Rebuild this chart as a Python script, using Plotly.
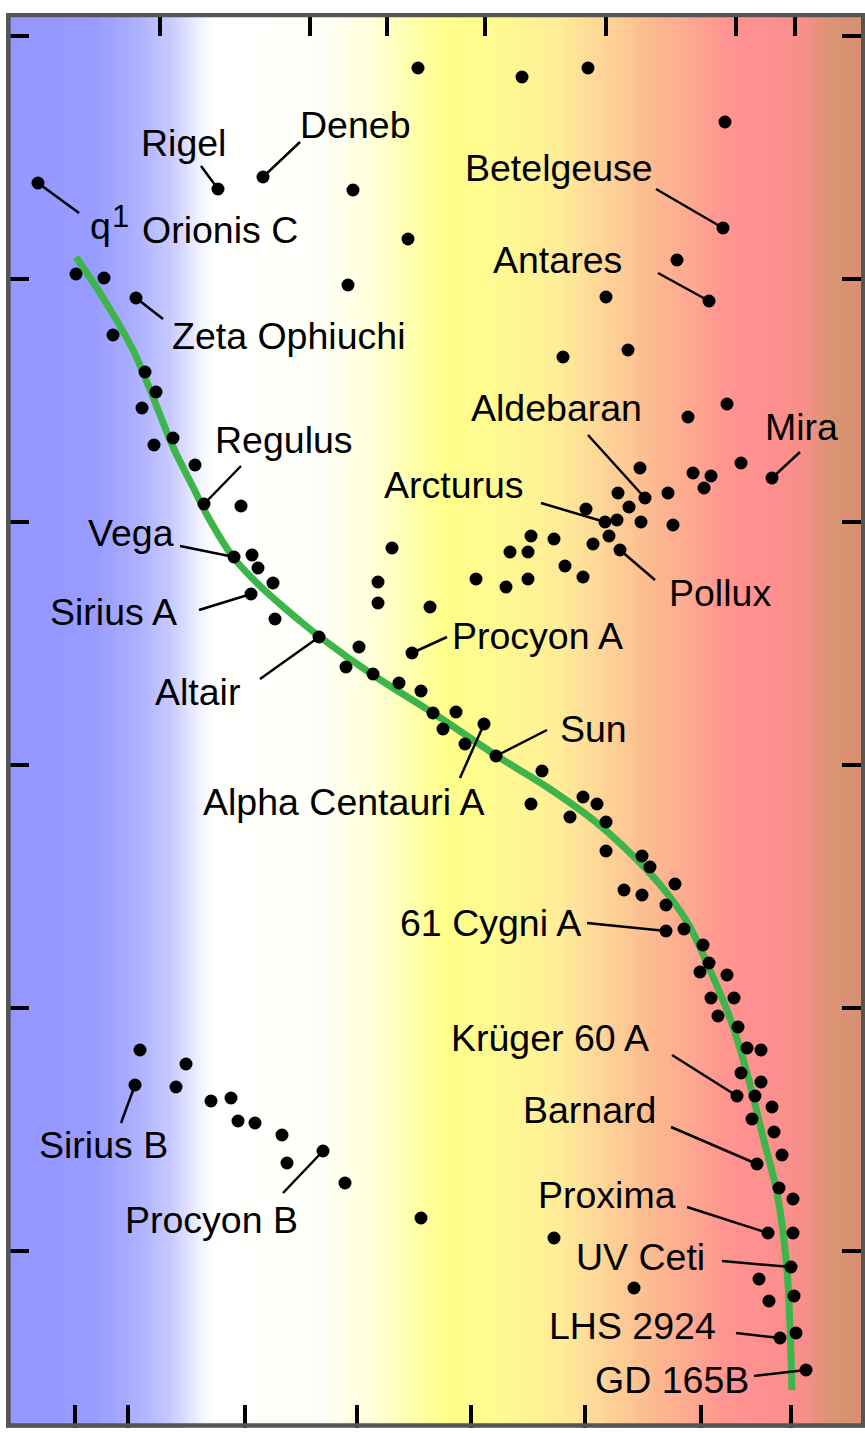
import numpy as np
import plotly.graph_objects as go

# ---------------- data (image-pixel coordinate system, y grows downward) ----------------
# main-sequence curve
ms_x = [76, 100, 133, 153, 173, 193, 207, 233, 260, 280, 300, 320, 373, 433, 497, 547,
        597, 647, 670, 690, 710, 730, 747, 763, 777, 787, 792]
ms_y = [257, 293, 350, 397, 447, 487, 515, 557, 586, 604, 621, 637, 675, 713, 756, 787,
        823, 870, 897, 927, 970, 1018, 1073, 1137, 1193, 1270, 1390]

# unlabeled stars
star_x = [418, 522, 588, 725, 353, 408, 348, 677, 606, 563, 628, 688, 727,
          76, 104, 113, 145, 156, 142, 173, 154, 195, 241, 252, 258, 273, 275,
          359, 346, 373, 399, 421, 433, 456, 443, 465, 542, 531, 583, 597, 570, 606, 606,
          642, 650, 675, 624, 642, 666, 684, 703, 709, 700, 727, 711, 734, 718, 738, 747,
          761, 741, 761, 755, 772, 752, 774, 782, 779, 793, 793, 759, 794, 769, 796, 554, 634,
          392, 378, 378, 430, 476, 506, 528, 510, 528, 531, 554, 565, 583, 593, 609, 586,
          617, 629, 618, 640, 641, 668, 673, 693, 711, 704, 741,
          140, 186, 176, 211, 231, 238, 255, 282, 287, 345, 421]
star_y = [68, 77, 68, 122, 190, 239, 285, 260, 297, 357, 350, 417, 404,
          274, 278, 335, 372, 392, 408, 438, 445, 465, 506, 555, 568, 583, 619,
          647, 667, 674, 683, 691, 713, 712, 729, 744, 771, 804, 797, 804, 817, 822, 851,
          856, 867, 884, 890, 895, 905, 929, 945, 963, 972, 975, 998, 998, 1016, 1027, 1048,
          1050, 1073, 1082, 1096, 1107, 1119, 1132, 1155, 1188, 1199, 1233, 1279, 1296, 1301, 1333, 1238, 1288,
          548, 582, 603, 607, 579, 587, 579, 552, 552, 536, 539, 566, 577, 544, 536, 509,
          520, 507, 493, 468, 522, 493, 525, 473, 476, 488, 463,
          1050, 1064, 1087, 1101, 1098, 1121, 1123, 1135, 1163, 1183, 1218]

# named stars: star position, label centre, leader-line end near the label
names = ["Orionis C", "Rigel", "Deneb", "Betelgeuse", "Antares", "Zeta Ophiuchi",
         "Aldebaran", "Mira", "Regulus", "Arcturus", "Vega", "Pollux", "Sirius A",
         "Procyon A", "Altair", "Sun", "Alpha Centauri A", "61 Cygni A", "Krüger 60 A",
         "Barnard", "Sirius B", "Proxima", "Procyon B", "UV Ceti", "LHS 2924", "GD 165B"]
named_x = [38, 218, 263, 723, 709, 136, 645, 772, 204, 605, 234, 620, 251,
           412, 319, 496, 484, 666, 737, 757, 135, 768, 323, 791, 780, 806]
named_y = [183, 189, 177, 228, 301, 298, 498, 478, 504, 522, 557, 550, 594,
           653, 637, 756, 724, 931, 1096, 1164, 1085, 1233, 1151, 1267, 1338, 1370]
label_x = [220, 183, 355, 559, 557, 288, 556, 801, 284, 454, 131, 720, 113,
           537, 197, 593, 343, 490, 550, 589, 103, 607, 211, 640, 632, 672]
label_y = [230, 143, 125, 168, 260, 336, 408, 427, 440, 485, 533, 593, 612,
           636, 692, 729, 802, 923, 1038, 1110, 1145, 1195, 1220, 1257, 1326, 1380]
lead_x = [79, 201, 300, 656, 658, 163, 588, 800, 241, 541, 180, 655, 199,
          447, 260, 547, 460, 587, 672, 671, 121, 687, 283, 722, 736, 754]
lead_y = [213, 166, 142, 189, 273, 319, 435, 452, 466, 503, 546, 580, 610,
          637, 679, 730, 778, 923, 1055, 1127, 1123, 1207, 1193, 1261, 1333, 1376]

bottom_ticks = [75, 128, 245, 357, 471, 585, 701, 791]
top_ticks = [160, 310, 387, 485, 606, 736, 795]
side_ticks = [36, 279, 522, 765, 1008, 1251]

# background colour band (pixel x, colour)
bg_pos = [6, 95, 135, 170, 198, 212, 320, 375, 415, 445, 510, 560, 600, 645, 690,
          725, 760, 805, 832, 865]
bg_col = ["#9397FF", "#989BFF", "#ABAFFF", "#C6C9FF", "#EEEFFF", "#FFFFFF", "#FFFFFA",
          "#FFFFD8", "#FFFFA8", "#FFFF8C", "#FFF892", "#FFEC98", "#FDD698", "#FCBE90",
          "#FDA890", "#FF9490", "#FF9090", "#F78F8A", "#D99473", "#D79070"]

X0, X1, Y0, Y1 = 6, 865, 13, 1428
FONT = "Liberation Sans, Arial, Helvetica, sans-serif"
FS = 37.5

fig = go.Figure()

# gradient background
xs = np.linspace(X0, X1, 430)
cscale = [[(p - X0) / (X1 - X0), c] for p, c in zip(bg_pos, bg_col)]
fig.add_trace(go.Heatmap(x=xs, y=[Y0, Y1], z=[xs, xs], colorscale=cscale,
                         zmin=X0, zmax=X1, showscale=False, hoverinfo="skip"))

# main sequence
fig.add_trace(go.Scatter(x=ms_x, y=ms_y, mode="lines",
                         line=dict(color="#3DB54A", width=7, shape="spline", smoothing=0.9),
                         hoverinfo="skip"))

# leader lines
lx, ly = [], []
for sx, sy, ex, ey in zip(named_x, named_y, lead_x, lead_y):
    lx += [sx, ex, None]
    ly += [sy, ey, None]
fig.add_trace(go.Scatter(x=lx, y=ly, mode="lines",
                         line=dict(color="black", width=2.5), hoverinfo="skip"))

# stars
fig.add_trace(go.Scatter(x=star_x + named_x, y=star_y + named_y, mode="markers",
                         marker=dict(color="black", size=13, line=dict(width=0))))

for name, tx, ty in zip(names, label_x, label_y):
    fig.add_annotation(x=tx, y=ty, text=name, showarrow=False,
                       font=dict(family=FONT, size=FS, color="black"),
                       xanchor="center", yanchor="middle")
# the theta-1 prefix of Orionis C as rendered in the reference
fig.add_annotation(x=100.5, y=226, text="q", showarrow=False,
                   font=dict(family=FONT, size=FS, color="black"),
                   xanchor="center", yanchor="middle")
fig.add_annotation(x=120, y=216, text="1", showarrow=False,
                   font=dict(family=FONT, size=31, color="black"),
                   xanchor="center", yanchor="middle")

# top ticks
for tx in top_ticks:
    fig.add_shape(type="line", xref="x", yref="y", x0=tx, x1=tx, y0=Y0, y1=36,
                  line=dict(color="black", width=4), layer="above")

# frame
fig.add_shape(type="rect", xref="x", yref="y", x0=8.4, x1=863.3, y0=15, y1=1425.5,
              line=dict(color="#555555", width=4.6), layer="above")

tick_common = dict(ticks="inside", ticklen=23, tickwidth=4, tickcolor="black",
                   showticklabels=False, showgrid=False, zeroline=False, showline=False)
fig.update_layout(
    width=865, height=1434,
    margin=dict(l=X0, r=0, t=Y0, b=1434 - Y1),
    paper_bgcolor="white", plot_bgcolor="white",
    showlegend=False,
    xaxis=dict(range=[X0, X1], tickmode="array", tickvals=bottom_ticks, **tick_common),
    yaxis=dict(range=[Y1, Y0], tickmode="array", tickvals=side_ticks, mirror="ticks",
               **tick_common),
)

fig.write_html("out.html", config={"displayModeBar": False},
               post_script="document.body.style.margin='0';")
